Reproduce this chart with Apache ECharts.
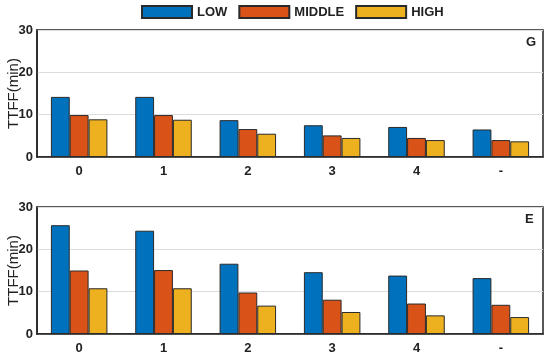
<!DOCTYPE html>
<html>
<head>
<meta charset="utf-8">
<script src="https://cdn.jsdelivr.net/npm/echarts@6/dist/echarts.min.js"></script>
<style>html,body{margin:0;padding:0;background:#fff;}#c{width:550px;height:355px;}</style>
</head>
<body>
<div id="c"></div>
<script>
const categories = ['0', '1', '2', '3', '4', '-'];
const seriesNames = ['LOW', 'MIDDLE', 'HIGH'];
const yTicks = [0, 10, 20, 30];
// Panel G
const gLow = [14.2, 14.2, 8.7, 7.5, 7.1, 6.5];
const gMiddle = [9.9, 9.9, 6.6, 5.1, 4.5, 4.0];
const gHigh = [8.9, 8.8, 5.5, 4.5, 4.0, 3.7];
// Panel E
const eLow = [25.7, 24.4, 16.6, 14.6, 13.8, 13.2];
const eMiddle = [15.0, 15.1, 9.8, 8.1, 7.2, 6.9];
const eHigh = [10.8, 10.8, 6.7, 5.2, 4.4, 4.0];
const panelLabels = ['G', 'E'];

const colors = ['#0072BD', '#D95319', '#EDB120'];
const font = 'Liberation Sans, Arial, sans-serif';
const chart = echarts.init(document.getElementById('c'));

const grids = [
  {left: 37, right: 7, top: 30, height: 127, show: true, borderColor: '#222', borderWidth: 1.5, backgroundColor: 'transparent', outerBoundsMode: 'none', containLabel: false},
  {left: 37, right: 7, top: 207, height: 127, show: true, borderColor: '#222', borderWidth: 1.5, backgroundColor: 'transparent', outerBoundsMode: 'none', containLabel: false}
];
function xAx(i) {
  return {
    type: 'category', gridIndex: i, data: categories,
    axisLine: {show: true, lineStyle: {color: '#222', width: 1.5}},
    axisTick: {show: false},
    axisLabel: {color: '#222', fontWeight: 'bold', fontSize: 13, fontFamily: font, margin: 8}
  };
}
function yAx(i) {
  return {
    type: 'value', gridIndex: i, min: yTicks[0], max: yTicks[yTicks.length - 1], interval: 10,
    name: 'TTFF(min)', nameLocation: 'middle', nameGap: 16, nameMoveOverlap: false,
    nameTextStyle: {color: '#222', fontSize: 15, fontFamily: font},
    axisLine: {show: true, lineStyle: {color: '#222', width: 1.5}},
    axisTick: {show: false},
    axisLabel: {color: '#222', fontWeight: 'bold', fontSize: 13, fontFamily: font, margin: 4},
    splitLine: {show: true, lineStyle: {color: '#dcdcdc', width: 1.2}}
  };
}
const data = [[gLow, gMiddle, gHigh], [eLow, eMiddle, eHigh]];
const series = [];
for (let p = 0; p < 2; p++) {
  for (let s = 0; s < 3; s++) {
    series.push({
      type: 'bar', name: seriesNames[s], xAxisIndex: p, yAxisIndex: p,
      data: data[p][s], barGap: '0%', barCategoryGap: '33%',
      itemStyle: {color: colors[s], borderColor: '#2a2a2a', borderWidth: 1},
      emphasis: {disabled: true}
    });
  }
}
chart.setOption({
  animation: false,
  color: colors,
  legend: {
    data: seriesNames, left: 136, top: 0, itemWidth: 50, itemHeight: 12, itemGap: 11, icon: 'rect',
    textStyle: {color: '#222', fontWeight: 'bold', fontSize: 13, fontFamily: font}
  },
  grid: grids,
  xAxis: [xAx(0), xAx(1)],
  yAxis: [yAx(0), yAx(1)],
  series: series,
  graphic: [
    {type: 'text', left: 526, top: 36, style: {text: panelLabels[0], fill: '#222', font: 'bold 13px ' + font}},
    {type: 'text', left: 525, top: 213, style: {text: panelLabels[1], fill: '#222', font: 'bold 13px ' + font}}
  ]
});
</script>
</body>
</html>
